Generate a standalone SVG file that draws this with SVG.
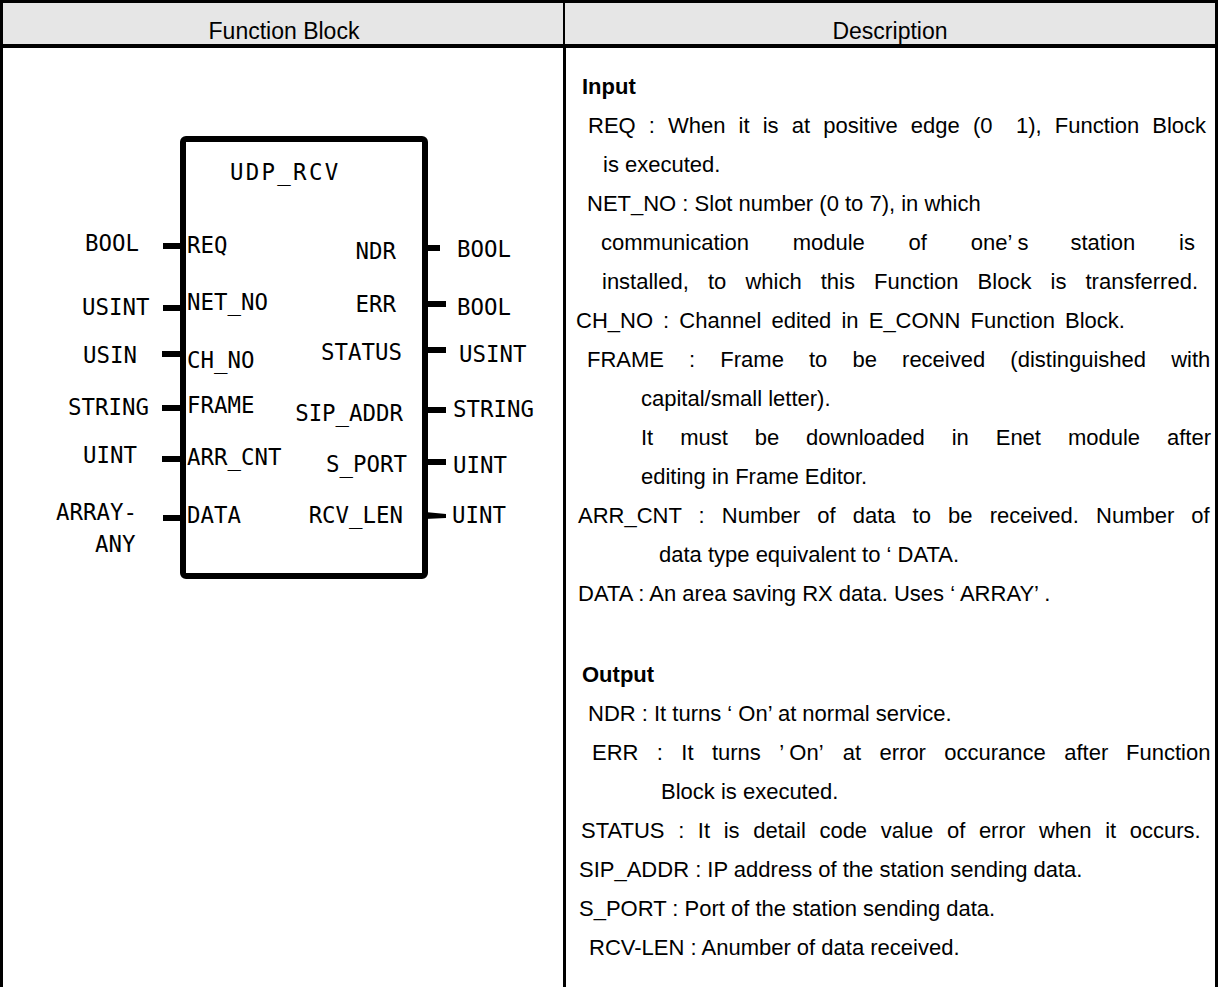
<svg xmlns="http://www.w3.org/2000/svg" width="1220" height="987" viewBox="0 0 1220 987">
<defs>
<style>
.hdr{font-family:"Liberation Sans",Arial,sans-serif;font-size:23px;fill:#000;text-anchor:middle}
.mono{font-family:"DejaVu Sans Mono","Liberation Mono",monospace;font-size:22.4px;fill:#000}
.end{text-anchor:end}
.desc{font-family:"Liberation Sans",Arial,sans-serif;font-size:22px;fill:#000}
.bold{font-weight:bold}
.stub{stroke:#000;stroke-width:6;fill:none}
.rule{fill:#000}
</style>
<clipPath id="descClip"><rect x="566" y="48" width="649" height="939"/></clipPath>
</defs>
<rect width="1220" height="987" fill="#fff"/>
<g id="table">
<rect x="0" y="0" width="1218" height="46" fill="#e6e6e6"/>
<rect class="rule" x="0" y="0" width="1218" height="3"/>
<rect class="rule" x="0" y="0" width="3" height="987"/>
<rect class="rule" x="0" y="44" width="1218" height="4"/>
<rect class="rule" x="563" y="0" width="2" height="46"/>
<rect class="rule" x="563" y="46" width="3" height="941"/>
<rect class="rule" x="1215" y="0" width="3" height="987"/>
<text class="hdr" x="284" y="39">Function Block</text>
<text class="hdr" x="890" y="39">Description</text>
</g>
<g id="connectors">
<line class="stub" x1="163" y1="246" x2="183" y2="246"/>
<line class="stub" x1="163" y1="308" x2="183" y2="308"/>
<line class="stub" x1="162" y1="354" x2="183" y2="354"/>
<line class="stub" x1="162" y1="408" x2="183" y2="408"/>
<line class="stub" x1="162" y1="459" x2="183" y2="459"/>
<line class="stub" x1="163" y1="518" x2="183" y2="518"/>
<line class="stub" x1="425" y1="248" x2="440" y2="248"/>
<line class="stub" x1="425" y1="304" x2="446" y2="304"/>
<line class="stub" x1="425" y1="350" x2="446" y2="350"/>
<line class="stub" x1="425" y1="410" x2="446" y2="410"/>
<line class="stub" x1="425" y1="462" x2="446" y2="462"/>
<polygon points="425,512 446,514 446,518 425,519" fill="#000"/>
</g>
<g id="udp_rcv">
<rect x="183" y="139" width="242" height="437" rx="3" fill="#fff" stroke="#000" stroke-width="6"/>
<text class="mono" x="230" y="180" style="letter-spacing:2.3px">UDP_RCV</text>
<text class="mono" x="187" y="253">REQ</text>
<text class="mono" x="187" y="310">NET_NO</text>
<text class="mono" x="187" y="368">CH_NO</text>
<text class="mono" x="187" y="413">FRAME</text>
<text class="mono" x="187" y="465">ARR_CNT</text>
<text class="mono" x="187" y="523">DATA</text>
<text class="mono end" x="396" y="259">NDR</text>
<text class="mono end" x="396" y="312">ERR</text>
<text class="mono end" x="402" y="360">STATUS</text>
<text class="mono end" x="403" y="421">SIP_ADDR</text>
<text class="mono end" x="407" y="472">S_PORT</text>
<text class="mono end" x="403" y="523">RCV_LEN</text>
</g>
<g id="input_types">
<text class="mono" x="85" y="251">BOOL</text>
<text class="mono" x="82" y="315">USINT</text>
<text class="mono" x="83" y="363">USIN</text>
<text class="mono" x="68" y="415">STRING</text>
<text class="mono" x="83" y="463">UINT</text>
<text class="mono" x="56" y="520">ARRAY-</text>
<text class="mono" x="95" y="552">ANY</text>
</g>
<g id="output_types">
<text class="mono" x="457" y="257">BOOL</text>
<text class="mono" x="457" y="315">BOOL</text>
<text class="mono" x="459" y="362">USINT</text>
<text class="mono" x="453" y="417">STRING</text>
<text class="mono" x="453" y="473">UINT</text>
<text class="mono" x="452" y="523">UINT</text>
</g>
<g id="description" clip-path="url(#descClip)">
<text class="desc bold" x="582" y="94">Input</text>
<text class="desc" x="588" y="133" style="word-spacing:7px">REQ : When it is at positive edge (0<tspan x="1016">1), Function Block</tspan></text>
<text class="desc" x="603" y="172">is executed.</text>
<text class="desc" x="587" y="211">NET_NO : Slot number (0 to 7), in which</text>
<text class="desc" y="250"><tspan x="601">communication</tspan><tspan x="792.7">module</tspan><tspan x="908.6">of</tspan><tspan x="970.7">one’ s</tspan><tspan x="1070.5">station</tspan><tspan x="1179">is</tspan></text>
<text class="desc" x="602" y="289" style="word-spacing:13px">installed, to which this Function Block is transferred.</text>
<text class="desc" x="576" y="328" style="word-spacing:4px">CH_NO : Channel edited in E_CONN Function Block.</text>
<text class="desc" x="587" y="367" style="word-spacing:19px">FRAME : Frame to be received (distinguished with</text>
<text class="desc" x="641" y="406">capital/small letter).</text>
<text class="desc" x="641" y="445" style="word-spacing:20.8px">It must be downloaded in Enet module after</text>
<text class="desc" x="641" y="484">editing in Frame Editor.</text>
<text class="desc" x="578" y="523" style="word-spacing:11px">ARR_CNT : Number of data to be received. Number of</text>
<text class="desc" x="659" y="562">data type equivalent to ‘ DATA.</text>
<text class="desc" x="578" y="601">DATA : An area saving RX data. Uses ‘ ARRAY’ .</text>
<text class="desc bold" x="582" y="682">Output</text>
<text class="desc" x="588" y="721">NDR : It turns ‘ On’ at normal service.</text>
<text class="desc" y="760"><tspan x="592">ERR</tspan><tspan x="656.8">:</tspan><tspan x="681.3">It</tspan><tspan x="711.9">turns</tspan><tspan x="779.2">’ On’</tspan><tspan x="842.8">at</tspan><tspan x="879.5">error</tspan><tspan x="944.3">occurance</tspan><tspan x="1064.2">after</tspan><tspan x="1126">Function</tspan></text>
<text class="desc" x="661" y="799">Block is executed.</text>
<text class="desc" x="581" y="838" style="word-spacing:7.5px">STATUS : It is detail code value of error when it occurs.</text>
<text class="desc" x="579" y="877">SIP_ADDR : IP address of the station sending data.</text>
<text class="desc" x="579" y="916">S_PORT : Port of the station sending data.</text>
<text class="desc" x="589" y="955">RCV-LEN : Anumber of data received.</text>
</g>
</svg>
